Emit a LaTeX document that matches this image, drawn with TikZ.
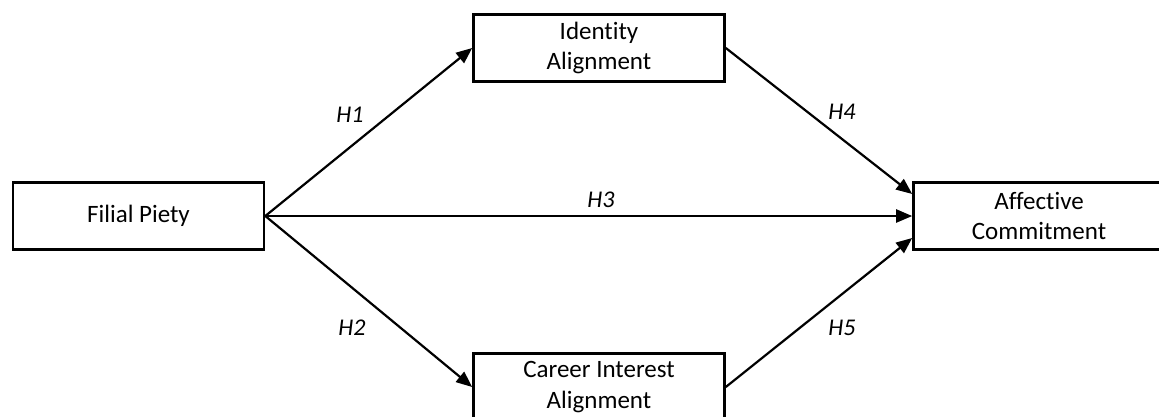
\documentclass[tikz,border=0pt]{standalone}
\usepackage{fontspec}
\setmainfont{Carlito}[Ligatures=NoCommon]
\usetikzlibrary{arrows.meta}
\tikzset{
    varbox/.style={draw, line width=2.6pt, minimum width=251pt, minimum height=67pt,
        align=center, font=\fontsize{25}{30.5}\selectfont, inner sep=0pt},
    path/.style={line width=2.2pt, -{Triangle[length=16pt,width=13pt]}},
    hyp/.style={font=\fontsize{24}{28}\selectfont\itshape}
}

\begin{document}
\begin{tikzpicture}[x=1pt, y=-1pt]
    \useasboundingbox (0,0) rectangle (1159,416);
    % variables
    \node[varbox] (piety) at (138.5,216) {Filial Piety};
    \node[varbox] (identity) at (599,48) {Identity\\Alignment};
    \node[varbox] (career) at (599,387) {Career Interest\\Alignment};
    \node[varbox] (commit) at (1039,216) {Affective\\Commitment};
    % paths
    \draw[path] (piety.east) -- (identity.west);
    \draw[path] (piety.east) -- (career.west);
    \draw[path] (piety.east) -- (commit.west);
    \draw[path] (identity.east) -- ([yshift=22pt]commit.west);
    \draw[path] (career.east) -- ([yshift=-22pt]commit.west);
    % hypotheses
    \node[hyp] (h1) at (350,115) {H1};
    \node[hyp] (h2) at (352,328) {H2};
    \node[hyp] (h3) at (601,200) {H3};
    \node[hyp] (h4) at (842,112) {H4};
    \node[hyp] (h5) at (842,328) {H5};
\end{tikzpicture}
\end{document}
